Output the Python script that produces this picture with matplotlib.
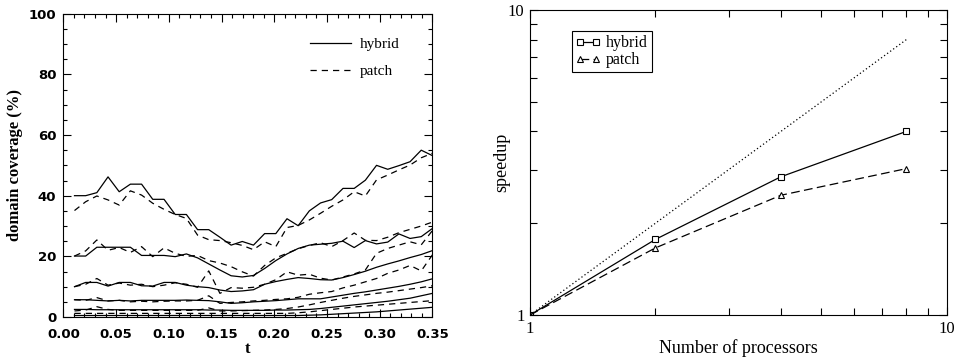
import matplotlib
matplotlib.use("Agg")
import matplotlib.pyplot as plt
from matplotlib.ticker import MultipleLocator, FixedLocator, NullFormatter

# time samples (left panel)
t = [0.0106, 0.0212, 0.0318, 0.0424, 0.0530, 0.0636, 0.0742, 0.0848, 0.0955,
     0.1061, 0.1167, 0.1273, 0.1379, 0.1485, 0.1591, 0.1697, 0.1803, 0.1909,
     0.2015, 0.2121, 0.2227, 0.2333, 0.2439, 0.2545, 0.2652, 0.2758, 0.2864,
     0.2970, 0.3076, 0.3182, 0.3288, 0.3394, 0.3500]

# domain coverage (%), hybrid runs
hybrid_1 = [40.0, 40.0, 41.0, 46.2, 41.3, 43.8, 43.8, 38.8, 38.8, 33.8, 33.8, 28.8, 28.8,
            26.3, 23.7, 24.9, 23.7, 27.5, 27.5, 32.4, 30.1, 35.0, 37.6, 38.7, 42.4, 42.4,
            45.1, 50.0, 48.7, 49.9, 51.2, 55.0, 53.2]
hybrid_2 = [20.1, 20.1, 23.0, 23.0, 23.0, 23.0, 20.3, 20.3, 20.3, 19.9, 20.8, 19.5, 17.5,
            15.5, 13.6, 13.2, 13.7, 16.0, 18.6, 20.8, 22.6, 23.7, 24.0, 24.3, 25.0, 22.9,
            25.2, 24.1, 24.7, 27.4, 25.9, 26.5, 29.2]
hybrid_3 = [10.0, 11.4, 11.4, 10.2, 11.4, 11.4, 10.3, 10.2, 11.4, 11.4, 10.5, 10.0, 9.7,
            8.9, 8.4, 8.6, 9.0, 10.8, 11.7, 12.4, 13.0, 12.7, 12.3, 12.2, 13.0, 14.0,
            15.1, 16.4, 17.5, 18.5, 19.6, 20.6, 21.9]
hybrid_4 = [5.7, 5.7, 5.5, 5.3, 5.5, 5.3, 5.5, 5.5, 5.5, 5.5, 5.6, 5.5, 5.4, 5.0, 4.5,
            4.7, 5.0, 5.2, 5.4, 5.7, 6.0, 6.0, 6.0, 6.6, 7.2, 7.8, 8.3, 8.9, 9.5, 10.1,
            10.8, 11.6, 12.6]
hybrid_5 = [2.5, 2.5, 2.4, 2.4, 2.4, 2.4, 2.4, 2.4, 2.4, 2.4, 2.4, 2.4, 2.3, 2.3, 2.2,
            2.2, 2.2, 2.2, 2.3, 2.3, 2.4, 2.5, 2.8, 3.2, 3.6, 4.0, 4.4, 4.8, 5.2, 5.7,
            6.2, 7.0, 7.8]
hybrid_6 = [0.5, 0.5, 0.5, 0.5, 0.5, 0.5, 0.5, 0.5, 0.5, 0.5, 0.5, 0.5, 0.5, 0.5, 0.5,
            0.5, 0.5, 0.5, 0.5, 0.5, 0.5, 0.6, 0.7, 0.9, 1.1, 1.3, 1.5, 1.7, 2.0, 2.3,
            2.6, 2.9, 3.2]

# domain coverage (%), patch runs
patch_1 = [35.1, 38.0, 39.9, 38.6, 36.9, 41.6, 40.2, 37.5, 35.5, 33.8, 32.5, 27.0, 25.5,
           25.2, 24.5, 23.6, 22.2, 24.8, 23.2, 29.5, 30.2, 32.0, 34.2, 36.5, 38.6, 41.3,
           39.9, 45.2, 46.8, 48.5, 50.1, 52.5, 54.0]
patch_2 = [20.1, 21.8, 25.4, 22.0, 22.9, 21.3, 23.2, 19.9, 22.8, 21.0, 20.0, 20.3, 18.6,
           17.8, 16.6, 14.9, 13.5, 17.0, 19.5, 21.0, 22.5, 23.6, 24.5, 23.2, 25.2, 27.7,
           25.3, 25.2, 26.3, 27.8, 28.9, 30.0, 31.3]
patch_3 = [10.0, 10.8, 12.7, 10.5, 11.2, 10.5, 10.8, 10.0, 10.5, 11.3, 10.8, 9.8, 15.2,
           7.8, 9.7, 9.5, 9.8, 10.8, 12.3, 14.9, 13.8, 14.1, 12.8, 12.2, 13.2, 14.2,
           15.5, 21.0, 22.6, 23.7, 24.8, 23.8, 28.5]
patch_4 = [5.7, 5.5, 6.4, 5.3, 5.5, 5.0, 5.2, 5.0, 5.2, 5.3, 5.3, 5.5, 7.0, 4.5, 4.8,
           5.0, 5.3, 5.5, 5.8, 6.0, 6.5, 7.5, 8.0, 8.4, 9.6, 10.5, 11.6, 12.7, 14.4,
           15.5, 17.0, 15.2, 20.5]
patch_5 = [2.0, 2.3, 3.4, 2.5, 2.2, 2.2, 2.2, 2.2, 2.2, 2.2, 2.2, 2.2, 3.0, 2.0, 2.0,
           2.1, 2.2, 2.3, 2.5, 2.8, 3.3, 4.0, 4.8, 5.5, 6.2, 6.8, 7.3, 7.8, 8.2, 8.7,
           9.2, 9.7, 10.3]
patch_6 = [1.2, 1.2, 1.2, 1.2, 1.2, 1.2, 1.2, 1.2, 1.2, 1.2, 1.2, 1.2, 1.2, 1.2, 1.2,
           1.2, 1.2, 1.2, 1.2, 1.2, 1.4, 1.7, 2.1, 2.5, 2.9, 3.3, 3.6, 3.9, 4.2, 4.5,
           4.8, 5.1, 5.4]

hybrid_runs = [hybrid_1, hybrid_2, hybrid_3, hybrid_4, hybrid_5, hybrid_6]
patch_runs = [patch_1, patch_2, patch_3, patch_4, patch_5, patch_6]

t_ticks = [0.00, 0.05, 0.10, 0.15, 0.20, 0.25, 0.30, 0.35]
coverage_ticks = [0, 20, 40, 60, 80, 100]

# speedup (right panel)
processors = [1, 2, 4, 8]
speedup_hybrid = [1.0, 1.77, 2.84, 4.0]
speedup_patch = [1.0, 1.66, 2.47, 3.02]
ideal_procs = [1, 8]
ideal_speedup = [1, 8]

serif = "Liberation Serif"
tick_font = {"family": "DejaVu Sans", "weight": "bold", "size": 9.5}

fig = plt.figure(figsize=(9.55, 3.6), dpi=100)

## left panel: domain coverage
ax1 = fig.add_axes([0.0663, 0.1194, 0.3865, 0.8426])
for i, run in enumerate(hybrid_runs):
    ax1.plot(t, run, color="black", lw=0.9, label="hybrid" if i == 0 else None)
for i, run in enumerate(patch_runs):
    ax1.plot(t, run, color="black", lw=0.9, linestyle=(0, (5, 4)),
             label="patch" if i == 0 else None)

ax1.set_xlim(0, 0.35)
ax1.set_ylim(0, 100)
ax1.set_xticks(t_ticks)
ax1.set_xticklabels([f"{v:.2f}" for v in t_ticks], fontdict=tick_font)
ax1.set_yticks(coverage_ticks)
ax1.set_yticklabels([f"{v}" for v in coverage_ticks], fontdict=tick_font)
ax1.xaxis.set_minor_locator(MultipleLocator(0.01))
ax1.yaxis.set_minor_locator(MultipleLocator(5))
ax1.tick_params(which="both", direction="in", top=True, right=True, width=0.8)
ax1.tick_params(which="major", length=6)
ax1.tick_params(which="minor", length=3)
ax1.tick_params(axis="x", which="major", pad=8)
ax1.tick_params(axis="y", which="major", pad=5)
ax1.set_xlabel("t", family=serif, weight="bold", fontsize=12, labelpad=0)
ax1.set_ylabel("domain coverage (%)", family=serif, weight="bold", fontsize=12, labelpad=4)
for spine in ax1.spines.values():
    spine.set_linewidth(0.8)
ax1.legend(loc="upper left", bbox_to_anchor=(0.668, 0.922), frameon=False,
           prop={"family": serif, "size": 11}, handlelength=2.7, labelspacing=0.9,
           handletextpad=0.55, borderpad=0, borderaxespad=0)

## right panel: speedup
ax2 = fig.add_axes([0.555, 0.125, 0.4363, 0.847])
ax2.plot(ideal_procs, ideal_speedup, color="black", lw=0.9, linestyle=(0, (1, 2)))
ax2.plot(processors, speedup_hybrid, color="black", lw=0.9, marker="s", markersize=4,
         markerfacecolor="white", markeredgewidth=0.8, label="hybrid")
ax2.plot(processors, speedup_patch, color="black", lw=0.9, linestyle=(0, (7, 3.5)),
         marker="^", markersize=4.5, markerfacecolor="white", markeredgewidth=0.8,
         label="patch")
ax2.set_xscale("log")
ax2.set_yscale("log")
ax2.set_xlim(1, 10)
ax2.set_ylim(1, 10)
ax2.xaxis.set_major_locator(FixedLocator([1, 10]))
ax2.yaxis.set_major_locator(FixedLocator([1, 10]))
ax2.xaxis.set_minor_locator(FixedLocator([2, 3, 4, 5, 6, 7, 8, 9]))
ax2.yaxis.set_minor_locator(FixedLocator([2, 3, 4, 5, 6, 7, 8, 9]))
ax2.xaxis.set_minor_formatter(NullFormatter())
ax2.yaxis.set_minor_formatter(NullFormatter())
ax2.set_xticklabels(["1", "10"], family=serif, fontsize=12)
ax2.set_yticklabels(["1", "10"], family=serif, fontsize=12)
ax2.tick_params(which="both", direction="in", top=True, right=True, width=0.8)
ax2.tick_params(which="major", length=6, pad=4)
ax2.tick_params(which="minor", length=5)
ax2.set_xlabel("Number of processors", family=serif, fontsize=13, labelpad=1.5)
ax2.set_ylabel("speedup", family=serif, fontsize=13, labelpad=-2)
for spine in ax2.spines.values():
    spine.set_linewidth(0.8)
leg = ax2.legend(loc="upper left", bbox_to_anchor=(0.1, 0.93), numpoints=2,
                 prop={"family": serif, "size": 11.5}, handlelength=1.6,
                 handletextpad=0.3, labelspacing=0.05, borderpad=0.25,
                 borderaxespad=0, fancybox=False, framealpha=1)
leg.get_frame().set_edgecolor("black")
leg.get_frame().set_linewidth(0.8)

fig.savefig("out.png", dpi=100)
